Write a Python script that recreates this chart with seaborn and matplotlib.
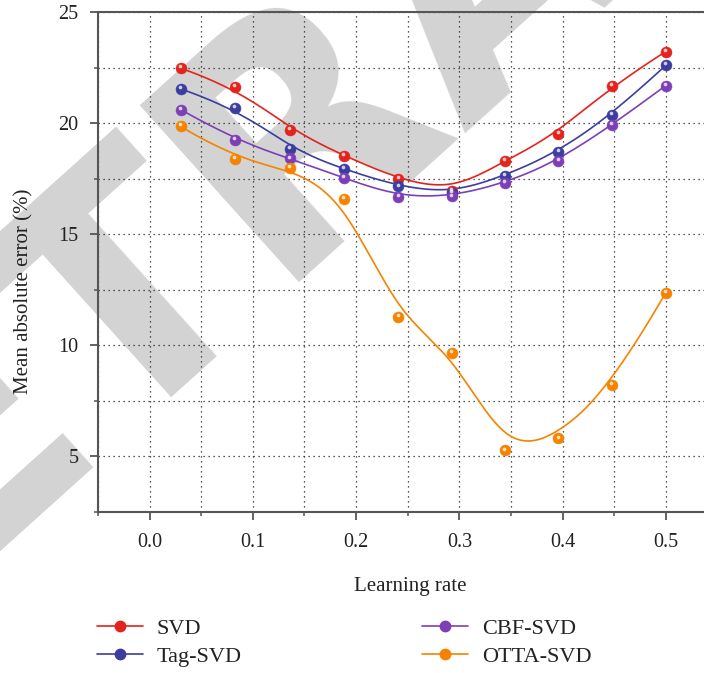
import numpy as np
import pandas as pd
import matplotlib
matplotlib.use("Agg")
import matplotlib.pyplot as plt
import matplotlib.transforms as mtransforms
from matplotlib.ticker import MultipleLocator
from matplotlib.lines import Line2D
import seaborn as sns

# ======================================
# DATA
# ======================================

learning_rate = [0.03, 0.083, 0.136, 0.188, 0.241, 0.293, 0.344, 0.396, 0.448, 0.5]

svd = [22.47, 21.62, 19.70, 18.54, 17.48, 16.96, 18.30, 19.53, 21.69, 23.22]
tag_svd = [21.54, 20.70, 18.84, 17.93, 17.15, 16.85, 17.64, 18.69, 20.38, 22.60]
cbf_svd = [20.61, 19.23, 18.41, 17.53, 16.69, 16.70, 17.31, 18.29, 19.91, 21.69]
otta_svd = [19.85, 18.38, 18.00, 16.60, 11.28, 9.67, 5.27, 5.81, 8.20, 12.37]

series_names = ["SVD", "Tag-SVD", "CBF-SVD", "OTTA-SVD"]
series_values = [svd, tag_svd, cbf_svd, otta_svd]
colors = ["#e3231c", "#3b3e9f", "#7d3fb6", "#f58300"]

x_ticks = [0.0, 0.1, 0.2, 0.3, 0.4, 0.5]
y_ticks = [5, 10, 15, 20, 25]


# clamped cubic B-spline with the data as control points (Origin style smoothing)
def bspline(px, py, k=3, num=400):
    px = np.asarray(px, float)
    py = np.asarray(py, float)
    n = len(px)
    t = np.concatenate([np.zeros(k), np.arange(n - k + 1), np.full(k, n - k)])
    u = np.linspace(0, n - k, num)
    u[-1] -= 1e-9
    N = np.zeros((num, len(t) - 1))
    for i in range(len(t) - 1):
        N[:, i] = (t[i] <= u) & (u < t[i + 1])
    for d in range(1, k + 1):
        Nn = np.zeros((num, len(t) - 1 - d))
        for i in range(len(t) - 1 - d):
            a = t[i + d] - t[i]
            b = t[i + d + 1] - t[i + 1]
            left = (u - t[i]) / a * N[:, i] if a > 0 else 0
            right = (t[i + d + 1] - u) / b * N[:, i + 1] if b > 0 else 0
            Nn[:, i] = left + right
        N = Nn
    return N @ px, N @ py


# ======================================
# STYLE
# ======================================

sns.set_theme(style="white")
plt.rcParams["font.family"] = ["Liberation Serif", "DejaVu Serif"]

fig = plt.figure(figsize=(7.04, 6.73), dpi=100)
ax = fig.add_axes([98 / 704, 1 - 512 / 673, 1 - 98 / 704, 500 / 673])
ax.set_facecolor("none")

# watermark behind everything
fig.text(0.785, 0.960, "RETRACTED", rotation=42, fontsize=235, color="#d3d3d3",
         family="DejaVu Sans", weight="bold",
         ha="center", va="baseline", rotation_mode="anchor", zorder=-1)

# ======================================
# PLOT
# ======================================

handles = []
for name, vals, col in zip(series_names, series_values, colors):
    sx, sy = bspline(learning_rate, vals)
    curve = pd.DataFrame({"x": sx, "y": sy})
    sns.lineplot(data=curve, x="x", y="y", ax=ax, color=col, linewidth=1.2,
                 sort=False, estimator=None, zorder=3)
    pts = pd.DataFrame({"x": learning_rate, "y": vals})
    sns.scatterplot(data=pts, x="x", y="y", ax=ax, color=col, s=62,
                    edgecolor=col, linewidth=0.4, zorder=4)
    shine = mtransforms.offset_copy(ax.transData, fig=fig, x=-0.6, y=1.4, units="points")
    ax.scatter(learning_rate, vals, s=7, color="white", alpha=0.75,
               linewidths=0, zorder=5, transform=shine)
    handles.append(Line2D([], [], color=col, linewidth=1.2, marker="o", markersize=7.5,
                          markerfacecolor=col, markeredgecolor=col))

ax.set_xlim(-0.05, 0.537)
ax.set_ylim(2.5, 25)

ax.xaxis.set_major_locator(MultipleLocator(0.1))
ax.xaxis.set_minor_locator(MultipleLocator(0.05))
ax.yaxis.set_major_locator(MultipleLocator(5))
ax.yaxis.set_minor_locator(MultipleLocator(2.5))
ax.set_xticks(x_ticks)
ax.set_xticklabels([f"{v:.1f}" for v in x_ticks])
ax.set_yticks(y_ticks)
ax.set_yticklabels([str(v) for v in y_ticks])

ax.grid(which="both", linestyle=(0, (1, 3)), color="#222222", linewidth=0.9)

spine_col = "#555555"
for side in ["left", "bottom", "top"]:
    ax.spines[side].set_color(spine_col)
    ax.spines[side].set_linewidth(1.5)
ax.spines["right"].set_visible(False)

ax.tick_params(which="major", direction="out", length=6, width=1.3,
               color=spine_col, labelsize=14.5, pad=8, left=True, bottom=True,
               labelcolor="#222222")
ax.tick_params(which="minor", direction="out", length=3, width=1.1,
               color=spine_col, left=True, bottom=True)
ax.tick_params(axis="x", pad=9)

ax.set_xlabel("Learning rate", fontsize=15, color="#222222")
ax.set_ylabel("Mean absolute error (%)", fontsize=15, color="#222222")
ax.xaxis.set_label_coords(0.516, -0.13)
ax.yaxis.set_label_coords(-0.107, 0.442)

fig.legend(handles, series_names, ncol=2, loc="upper left",
           bbox_to_anchor=(77 / 704, 1 - 598 / 673),
           frameon=False, fontsize=16, handlelength=2.07, handletextpad=0.63,
           columnspacing=8.1, labelspacing=0.34, labelcolor="#222222")

fig.savefig("out.png", dpi=100)
